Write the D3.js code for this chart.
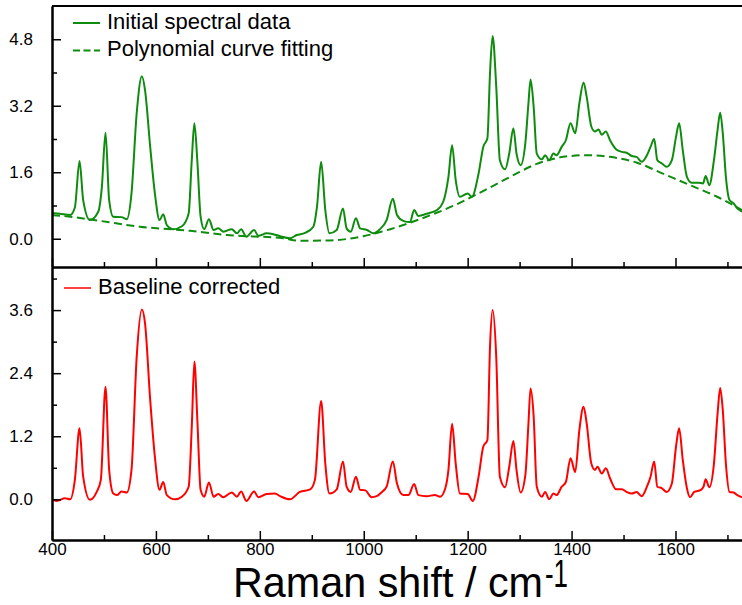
<!DOCTYPE html>
<html><head><meta charset="utf-8">
<script src="https://cdn.jsdelivr.net/npm/d3@7/dist/d3.min.js"></script>
<style>body{margin:0;background:#fff}svg{display:block}text{font-family:Arial,"Liberation Sans",sans-serif}</style>
</head><body><svg id="c" width="742" height="605"></svg>
<script>
// ---------- data ----------
const wnInitial = [400,415,435,444,453,460,473,489,496,503,510,518,534,544,553,563,573,579,589,598,607,614,621,634,650,663,669,674,680,686,693,702,711,720,730,746,756,764,774,789,797,813,826,839,858,871,887,903,910,918,926,934,948,960,967,975,985,993,1006,1019,1031,1044,1056,1064,1076,1089,1097,1105,1121,1141,1153,1163,1170,1177,1185,1200,1208,1221,1230,1238,1243,1248,1255,1262,1272,1280,1288,1294,1302,1311,1317,1321,1327,1333,1343,1349,1357,1365,1371,1381,1389,1398,1407,1415,1423,1429,1438,1445,1452,1458,1466,1474,1486,1497,1506,1516,1525,1535,1545,1552,1559,1565,1574,1583,1593,1601,1607,1614,1622,1631,1644,1653,1658,1665,1674,1681,1686,1691,1697,1704,1712,1719,1728];
const intInitial = [0.62,0.60,0.57,0.75,1.87,0.93,0.45,0.65,1.25,2.55,0.93,0.53,0.52,0.47,1.09,3.02,3.91,3.58,2.21,1.09,0.45,0.59,0.33,0.23,0.30,0.61,1.89,2.78,1.81,0.53,0.23,0.47,0.21,0.25,0.17,0.23,0.13,0.23,0.05,0.21,0.07,0.13,0.11,0.06,0.01,0.09,0.14,0.29,0.77,1.85,0.69,0.13,0.21,0.73,0.25,0.17,0.49,0.25,0.21,0.13,0.23,0.45,0.96,0.57,0.43,0.40,0.69,0.55,0.60,0.69,0.89,1.49,2.25,1.41,1.01,1.09,1.01,1.57,2.21,2.42,3.98,4.88,3.66,1.89,1.67,2.05,2.66,2.05,1.77,2.30,3.26,3.83,3.18,2.05,1.91,2.01,1.89,2.05,2.01,2.21,2.37,2.78,2.54,3.26,3.76,3.42,2.70,2.58,2.63,2.50,2.58,2.37,2.15,2.09,2.07,1.99,1.97,1.85,2.01,2.21,2.40,1.89,1.81,1.73,1.89,2.45,2.78,2.13,1.49,1.35,1.35,1.33,1.51,1.29,1.89,2.62,3.03,2.54,1.49,0.93,0.85,0.73,0.65];

const wnFit = [400,435,492,569,666,736,845,877,935,999,1051,1108,1179,1250,1288,1333,1384,1429,1474,1526,1577,1628,1680,1728];
const intFit = [0.57,0.53,0.43,0.29,0.19,0.09,0.01,-0.05,-0.04,0.06,0.23,0.47,0.83,1.28,1.53,1.80,1.97,2.01,1.97,1.83,1.56,1.29,1.01,0.69];

const wnCorrected = [400,409,425,435,444,453,460,473,486,494,503,510,518,525,534,544,553,563,573,579,589,598,607,614,621,637,650,663,669,674,680,686,693,702,711,720,730,746,756,764,774,789,797,813,829,839,858,877,897,906,918,926,934,948,960,967,975,985,993,1003,1015,1025,1035,1044,1056,1064,1076,1086,1097,1105,1121,1137,1147,1157,1163,1170,1177,1185,1200,1210,1221,1230,1238,1243,1248,1255,1262,1272,1280,1288,1294,1302,1311,1317,1321,1327,1333,1343,1349,1357,1365,1371,1381,1389,1398,1407,1415,1423,1429,1438,1445,1450,1458,1466,1474,1486,1497,1506,1516,1525,1535,1545,1552,1559,1565,1574,1583,1593,1601,1607,1614,1622,1628,1636,1649,1654,1658,1665,1674,1681,1686,1691,1697,1704,1712,1719,1728];
const intCorrected = [0.00,-0.03,0.02,0.00,0.37,1.35,0.43,-0.01,0.14,0.37,2.14,0.56,0.11,0.08,0.15,0.13,0.56,2.71,3.61,3.35,1.89,0.81,0.18,0.33,0.08,0.00,0.05,0.24,1.38,2.62,1.45,0.18,0.05,0.32,0.05,0.10,0.04,0.13,0.05,0.15,-0.03,0.15,0.04,0.10,0.11,0.06,0.00,0.14,0.19,0.37,1.87,0.68,0.11,0.19,0.72,0.24,0.14,0.43,0.18,0.17,0.04,0.06,0.14,0.24,0.72,0.30,0.08,0.08,0.29,0.08,0.06,0.08,0.05,0.21,0.56,1.44,0.68,0.11,0.10,-0.03,0.43,1.00,1.13,2.90,3.60,2.71,0.43,0.23,0.62,1.11,0.56,0.13,0.46,1.44,2.11,1.58,0.24,0.05,0.14,0.00,0.11,0.08,0.24,0.33,0.78,0.52,1.32,1.76,1.45,0.68,0.56,0.62,0.49,0.59,0.40,0.19,0.19,0.14,0.11,0.14,0.06,0.24,0.43,0.72,0.24,0.21,0.14,0.30,1.00,1.35,0.75,0.21,0.04,0.14,0.18,0.24,0.38,0.23,0.68,1.63,2.12,1.70,0.68,0.14,0.13,0.08,0.04];

const xTicks = [400,600,800,1000,1200,1400,1600];
const xMinorTicks = [500,700,900,1100,1300,1500,1700];
const topTicks = [0,1.6,3.2,4.8];
const topMinorTicks = [0.8,2.4,4.0];
const bottomTicks = [0,1.2,2.4,3.6];
const bottomMinorTicks = [0.6,1.8,3.0,4.2];
const legendTop = ["Initial spectral data","Polynomial curve fitting"];
const legendBottom = ["Baseline corrected"];
const xTitle = "Raman shift / cm";
const xTitleSup = "-1";

// ---------- drawing ----------
const GREEN = "#0e8c0e", RED = "#ff0000";
const svg = d3.select("#c");
const L = 52, R = 742;
const x = d3.scaleLinear().domain([400,1728]).range([L,R]);
const yTop = d3.scaleLinear().domain([-0.68,5.6]).range([267,6]);
const yBot = d3.scaleLinear().domain([-0.774,4.42]).range([540,267]);

const defs = svg.append("defs");
defs.append("clipPath").attr("id","cT").append("rect").attr("x",L).attr("y",6).attr("width",R-L).attr("height",261);
defs.append("clipPath").attr("id","cB").append("rect").attr("x",L).attr("y",267).attr("width",R-L).attr("height",273);

const zip = (a,b)=>a.map((v,i)=>[v,b[i]]);
const lineT = d3.line().x(d=>x(d[0])).y(d=>yTop(d[1])).curve(d3.curveMonotoneX);
const lineB = d3.line().x(d=>x(d[0])).y(d=>yBot(d[1])).curve(d3.curveMonotoneX);

const gT = svg.append("g").attr("clip-path","url(#cT)");
gT.append("path").attr("d",lineT(zip(wnFit,intFit))).attr("fill","none")
  .attr("stroke",GREEN).attr("stroke-width",2).attr("stroke-dasharray","8,4.5");
gT.append("path").attr("d",lineT(zip(wnInitial,intInitial))).attr("fill","none")
  .attr("stroke",GREEN).attr("stroke-width",2).attr("stroke-linejoin","round");

const gB = svg.append("g").attr("clip-path","url(#cB)");
gB.append("path").attr("d",lineB(zip(wnCorrected,intCorrected))).attr("fill","none")
  .attr("stroke",RED).attr("stroke-width",2).attr("stroke-linejoin","round");

function styleAxis(g){
  g.selectAll(".domain").attr("stroke","#000").attr("stroke-width",2);
  g.selectAll(".tick line").attr("stroke","#000").attr("stroke-width",1.5);
  g.selectAll("text").attr("font-size",17).attr("fill","#000").attr("font-family","Arial, 'Liberation Sans', sans-serif");
}
const fmt = d3.format(".1f");
// top panel
let g = svg.append("g").attr("transform",`translate(${L},0)`)
  .call(d3.axisLeft(yTop).tickValues(topTicks).tickFormat(fmt).tickSize(-9).tickSizeOuter(0).tickPadding(19));
styleAxis(g);
g = svg.append("g").attr("transform",`translate(${L},0)`)
  .call(d3.axisLeft(yTop).tickValues(topMinorTicks).tickFormat("").tickSize(-5).tickSizeOuter(0));
styleAxis(g);
g = svg.append("g").attr("transform",`translate(0,267)`)
  .call(d3.axisBottom(x).tickValues(xTicks).tickFormat("").tickSize(-9).tickSizeOuter(0));
styleAxis(g);
g = svg.append("g").attr("transform",`translate(0,267)`)
  .call(d3.axisBottom(x).tickValues(xMinorTicks).tickFormat("").tickSize(-5).tickSizeOuter(0));
styleAxis(g);
svg.append("line").attr("x1",L).attr("x2",R).attr("y1",6).attr("y2",6).attr("stroke","#000").attr("stroke-width",2);
// bottom panel
g = svg.append("g").attr("transform",`translate(${L},0)`)
  .call(d3.axisLeft(yBot).tickValues(bottomTicks).tickFormat(fmt).tickSize(-9).tickSizeOuter(0).tickPadding(19));
styleAxis(g);
g = svg.append("g").attr("transform",`translate(${L},0)`)
  .call(d3.axisLeft(yBot).tickValues(bottomMinorTicks).tickFormat("").tickSize(-5).tickSizeOuter(0));
styleAxis(g);
g = svg.append("g").attr("transform",`translate(0,540)`)
  .call(d3.axisBottom(x).tickValues(xTicks).tickFormat(d=>d).tickSize(-9).tickSizeOuter(0).tickPadding(3));
styleAxis(g);
g = svg.append("g").attr("transform",`translate(0,540)`)
  .call(d3.axisBottom(x).tickValues(xMinorTicks).tickFormat("").tickSize(-5).tickSizeOuter(0));
styleAxis(g);

// legends
const lg = svg.append("g");
lg.append("line").attr("x1",73).attr("x2",100).attr("y1",23).attr("y2",23).attr("stroke",GREEN).attr("stroke-width",2);
lg.append("text").attr("x",107).attr("y",28.5).attr("font-size",22).text(legendTop[0]);
lg.append("line").attr("x1",73).attr("x2",100).attr("y1",50.5).attr("y2",50.5).attr("stroke",GREEN).attr("stroke-width",2).attr("stroke-dasharray","7,3.5");
lg.append("text").attr("x",107).attr("y",56).attr("font-size",22).text(legendTop[1]);
lg.append("line").attr("x1",64).attr("x2",91).attr("y1",288).attr("y2",288).attr("stroke",RED).attr("stroke-width",1.5);
lg.append("text").attr("x",98).attr("y",293.5).attr("font-size",22).text(legendBottom[0]);

// x title
svg.append("text").attr("x",233).attr("y",597).attr("font-size",42)
  .attr("textLength",310).attr("lengthAdjust","spacingAndGlyphs").text(xTitle);
svg.append("text").attr("x",545).attr("y",587).attr("font-size",38)
  .attr("textLength",23).attr("lengthAdjust","spacingAndGlyphs").text(xTitleSup);
</script></body></html>
